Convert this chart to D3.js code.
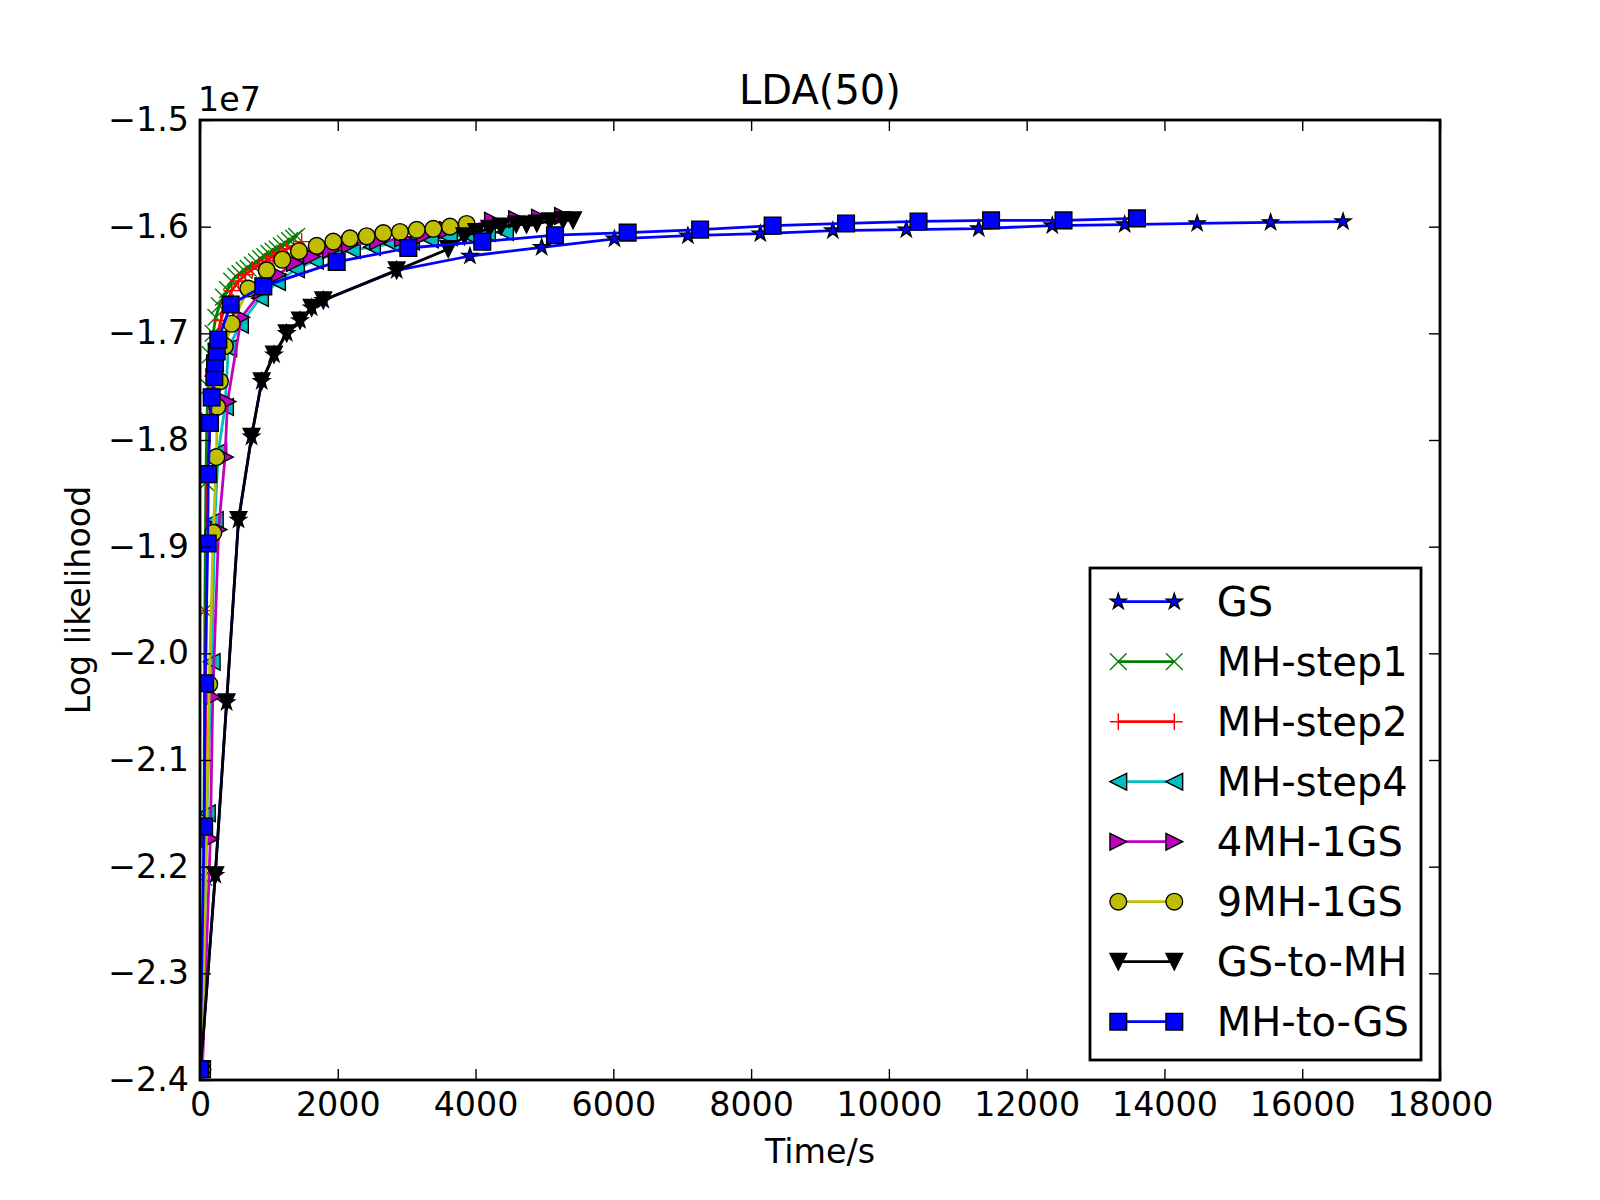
<!DOCTYPE html>
<html>
<head>
<meta charset="utf-8">
<script src="https://d3js.org/d3.v7.min.js"></script>
<style>
  body { margin: 0; background: #fff; }
  svg { display: block; font-family: "DejaVu Sans", sans-serif; }
</style>
</head>
<body>
<script>
// log likelihood values are in units of 1e7, times in seconds
var xTicks = [0, 2000, 4000, 6000, 8000, 10000, 12000, 14000, 16000, 18000];
var yTicks = [-2.4, -2.3, -2.2, -2.1, -2.0, -1.9, -1.8, -1.7, -1.6, -1.5];

var gs = [[10,-2.390],[222,-2.208],[386,-2.046],[559,-1.875],[748,-1.797],[896,-1.745],
  [1074,-1.720],[1259,-1.700],[1452,-1.688],[1621,-1.676],[1790,-1.669],[2855,-1.641],
  [3919,-1.6275],[4960,-1.6194],[6016,-1.6114],[7082,-1.6085],[8134,-1.6066],[9186,-1.6037],
  [10253,-1.6028],[11305,-1.6018],[12372,-1.5990],[13423,-1.5980],[14475,-1.5970],
  [15541,-1.5960],[16593,-1.5952]];

var mhStep1 = [[20,-2.390],[55,-2.210],[70,-1.960],[85,-1.840],[100,-1.780],[120,-1.750],
  [150,-1.720],[190,-1.700],[230,-1.685],[280,-1.674],[340,-1.666],[400,-1.659],[460,-1.651],
  [520,-1.6465],[580,-1.644],[640,-1.641],[700,-1.639],[760,-1.636],[820,-1.633],[880,-1.630],
  [940,-1.628],[1000,-1.625],[1060,-1.623],[1120,-1.621],[1180,-1.618],[1240,-1.616],
  [1300,-1.613],[1360,-1.611],[1403,-1.609]];

var mhStep2 = [[25,-2.390],[70,-2.150],[90,-1.960],[110,-1.840],[140,-1.780],[180,-1.740],
  [230,-1.710],[300,-1.688],[380,-1.672],[460,-1.660],[560,-1.651],[660,-1.645],[760,-1.640],
  [860,-1.636],[960,-1.632],[1060,-1.628],[1160,-1.624],[1260,-1.621],[1360,-1.618],[1476,-1.614]];

var mhStep4 = [[30,-2.390],[100,-2.150],[170,-2.008],[215,-1.875],[266,-1.811],[363,-1.769],
  [411,-1.714],[580,-1.692],[871,-1.667],[1118,-1.652],[1394,-1.640],[1669,-1.632],[1931,-1.626],
  [2206,-1.622],[2497,-1.619],[2787,-1.616],[3063,-1.614],[3339,-1.612],[3614,-1.610],
  [3890,-1.608],[4166,-1.606],[4427,-1.605]];

var mh4gs1 = [[35,-2.390],[150,-2.174],[185,-2.041],[270,-1.884],[363,-1.816],[400,-1.764],
  [600,-1.685],[900,-1.660],[1132,-1.645],[1379,-1.634],[1626,-1.628],[1902,-1.622],[2177,-1.617],
  [2584,-1.614],[2947,-1.611],[3266,-1.608],[3600,-1.603],[3934,-1.599],[4253,-1.5945],
  [4602,-1.593],[4935,-1.5915],[5269,-1.590]];

var mh9gs1 = [[30,-2.390],[134,-2.029],[193,-1.887],[238,-1.816],[250,-1.769],[290,-1.745],
  [360,-1.712],[460,-1.691],[701,-1.658],[968,-1.641],[1195,-1.631],[1437,-1.623],[1694,-1.618],
  [1935,-1.614],[2177,-1.611],[2420,-1.609],[2661,-1.606],[2903,-1.605],[3146,-1.603],
  [3387,-1.602],[3629,-1.600],[3871,-1.5975]];

var gsToMh = [[10,-2.390],[222,-2.208],[386,-2.046],[559,-1.875],[748,-1.797],[896,-1.745],
  [1074,-1.720],[1259,-1.700],[1452,-1.688],[1621,-1.676],[1790,-1.669],[2855,-1.641],
  [3604,-1.621],[3838,-1.609],[4010,-1.605],[4200,-1.602],[4370,-1.600],[4590,-1.598],
  [4740,-1.598],[4890,-1.597],[5080,-1.595],[5270,-1.594],[5415,-1.594]];

var mhToGs = [[0,-2.390],[60,-2.1625],[74,-2.028],[112,-1.897],[120,-1.832],[145,-1.784],
  [170,-1.760],[208,-1.741],[218,-1.728],[242,-1.717],[266,-1.706],[445,-1.673],[919,-1.656],
  [1984,-1.633],[3024,-1.620],[4098,-1.614],[5153,-1.608],[6208,-1.6056],[7260,-1.6028],
  [8312,-1.599],[9378,-1.597],[10430,-1.5951],[11483,-1.5941],[12535,-1.5941],[13601,-1.5922]];

var seriesNames = ["GS", "MH-step1", "MH-step2", "MH-step4", "4MH-1GS", "9MH-1GS", "GS-to-MH", "MH-to-GS"];
var seriesData = [gs, mhStep1, mhStep2, mhStep4, mh4gs1, mh9gs1, gsToMh, mhToGs];
var seriesColor = ["#0000ff", "#008000", "#ff0000", "#00bfbf", "#bf00bf", "#bfbf00", "#000000", "#0000ff"];
var seriesMarker = ["star", "x", "plus", "left", "right", "circle", "down", "square"];

var W = 1600, H = 1200;
var axL = 200, axR = 1440, axT = 120, axB = 1080;

var x = d3.scaleLinear().domain([0, 18000]).range([axL, axR]);
var y = d3.scaleLinear().domain([-2.4, -1.5]).range([axB, axT]);

var svg = d3.select("body").append("svg")
  .attr("width", W)
  .attr("height", H);

svg.append("rect").attr("width", W).attr("height", H).attr("fill", "#fff");

svg.append("clipPath").attr("id", "plotclip")
  .append("rect")
  .attr("x", axL).attr("y", axT)
  .attr("width", axR - axL).attr("height", axB - axT);

// marker shapes, r is half the marker size
var r = 8.35;
function markerPath(kind) {
  if (kind === "square") return "M" + (-r) + "," + (-r) + "h" + (2 * r) + "v" + (2 * r) + "h" + (-2 * r) + "Z";
  if (kind === "down") return "M0," + r + "L" + (-r) + "," + (-r) + "L" + r + "," + (-r) + "Z";
  if (kind === "left") return "M" + (-r) + ",0L" + r + "," + (-r) + "L" + r + "," + r + "Z";
  if (kind === "right") return "M" + r + ",0L" + (-r) + "," + (-r) + "L" + (-r) + "," + r + "Z";
  if (kind === "x") return "M" + (-r) + "," + (-r) + "L" + r + "," + r + "M" + (-r) + "," + r + "L" + r + "," + (-r);
  if (kind === "plus") return "M" + (-r) + ",0H" + r + "M0," + (-r) + "V" + r;
  if (kind === "circle") return "M" + r + ",0A" + r + "," + r + " 0 1,1 " + (-r) + ",0A" + r + "," + r + " 0 1,1 " + r + ",0Z";
  if (kind === "star") {
    var p = [], inner = r * 0.381966;
    for (var i = 0; i < 10; i++) {
      var rad = i % 2 === 0 ? r : inner;
      var a = -Math.PI / 2 + i * Math.PI / 5;
      p.push([rad * Math.cos(a), rad * Math.sin(a)]);
    }
    return "M" + p.map(function(q) { return q[0].toFixed(2) + "," + q[1].toFixed(2); }).join("L") + "Z";
  }
}

function drawMarkers(g, pts, kind, color) {
  var open = (kind === "x" || kind === "plus");
  g.selectAll(null).data(pts).enter().append("path")
    .attr("transform", function(d) { return "translate(" + d[0] + "," + d[1] + ")"; })
    .attr("d", markerPath(kind))
    .attr("fill", open ? "none" : color)
    .attr("stroke", open ? color : "#000")
    .attr("stroke-width", 1.39);
}

var line = d3.line()
  .x(function(d) { return x(d[0]); })
  .y(function(d) { return y(d[1]); });

var plot = svg.append("g").attr("clip-path", "url(#plotclip)");

seriesData.forEach(function(data, i) {
  var g = plot.append("g");
  g.append("path")
    .attr("d", line(data))
    .attr("fill", "none")
    .attr("stroke", seriesColor[i])
    .attr("stroke-width", 2.78)
    .attr("stroke-linejoin", "round");
  drawMarkers(g, data.map(function(d) { return [x(d[0]), y(d[1])]; }), seriesMarker[i], seriesColor[i]);
});

// axes, ticks pointing inward on all four sides
var tickFont = 33.3;

svg.append("g")
  .attr("transform", "translate(0," + axB + ")")
  .call(d3.axisBottom(x).tickValues(xTicks).tickFormat(d3.format("d"))
    .tickSizeInner(-11).tickSizeOuter(0).tickPadding(12));
svg.append("g")
  .attr("transform", "translate(0," + axT + ")")
  .call(d3.axisTop(x).tickValues(xTicks).tickFormat("")
    .tickSizeInner(-11).tickSizeOuter(0));
svg.append("g")
  .attr("transform", "translate(" + axL + ",0)")
  .call(d3.axisLeft(y).tickValues(yTicks).tickFormat(d3.format(".1f"))
    .tickSizeInner(-11).tickSizeOuter(0).tickPadding(11));
svg.append("g")
  .attr("transform", "translate(" + axR + ",0)")
  .call(d3.axisRight(y).tickValues(yTicks).tickFormat("")
    .tickSizeInner(-11).tickSizeOuter(0));

svg.selectAll(".domain").remove();
svg.selectAll(".tick line").attr("stroke", "#000").attr("stroke-width", 1.4);
svg.selectAll(".tick text")
  .attr("font-family", "DejaVu Sans")
  .attr("font-size", tickFont)
  .attr("fill", "#000");

svg.append("rect")
  .attr("x", axL).attr("y", axT)
  .attr("width", axR - axL).attr("height", axB - axT)
  .attr("fill", "none")
  .attr("stroke", "#000")
  .attr("stroke-width", 2.8);

// texts
svg.append("text")
  .attr("x", (axL + axR) / 2).attr("y", 104)
  .attr("text-anchor", "middle")
  .attr("font-size", 40)
  .text("LDA(50)");

svg.append("text")
  .attr("x", axL - 2).attr("y", 111)
  .attr("font-size", tickFont)
  .text("1e7");

svg.append("text")
  .attr("x", (axL + axR) / 2).attr("y", 1163)
  .attr("text-anchor", "middle")
  .attr("font-size", tickFont)
  .text("Time/s");

svg.append("text")
  .attr("transform", "translate(90," + ((axT + axB) / 2) + ") rotate(-90)")
  .attr("text-anchor", "middle")
  .attr("font-size", tickFont)
  .text("Log likelihood");

// legend
var legend = svg.append("g");
legend.append("rect")
  .attr("x", 1090).attr("y", 568)
  .attr("width", 331).attr("height", 492)
  .attr("fill", "#fff")
  .attr("stroke", "#000")
  .attr("stroke-width", 2.8);

seriesNames.forEach(function(name, i) {
  var cy = 601.7 + i * 60;
  var row = legend.append("g");
  row.append("line")
    .attr("x1", 1118.3).attr("x2", 1174.3)
    .attr("y1", cy).attr("y2", cy)
    .attr("stroke", seriesColor[i])
    .attr("stroke-width", 2.78);
  drawMarkers(row, [[1118.3, cy], [1174.3, cy]], seriesMarker[i], seriesColor[i]);
  row.append("text")
    .attr("x", 1216.7).attr("y", cy + 14)
    .attr("font-size", 40)
    .text(name);
});
</script>
</body>
</html>
